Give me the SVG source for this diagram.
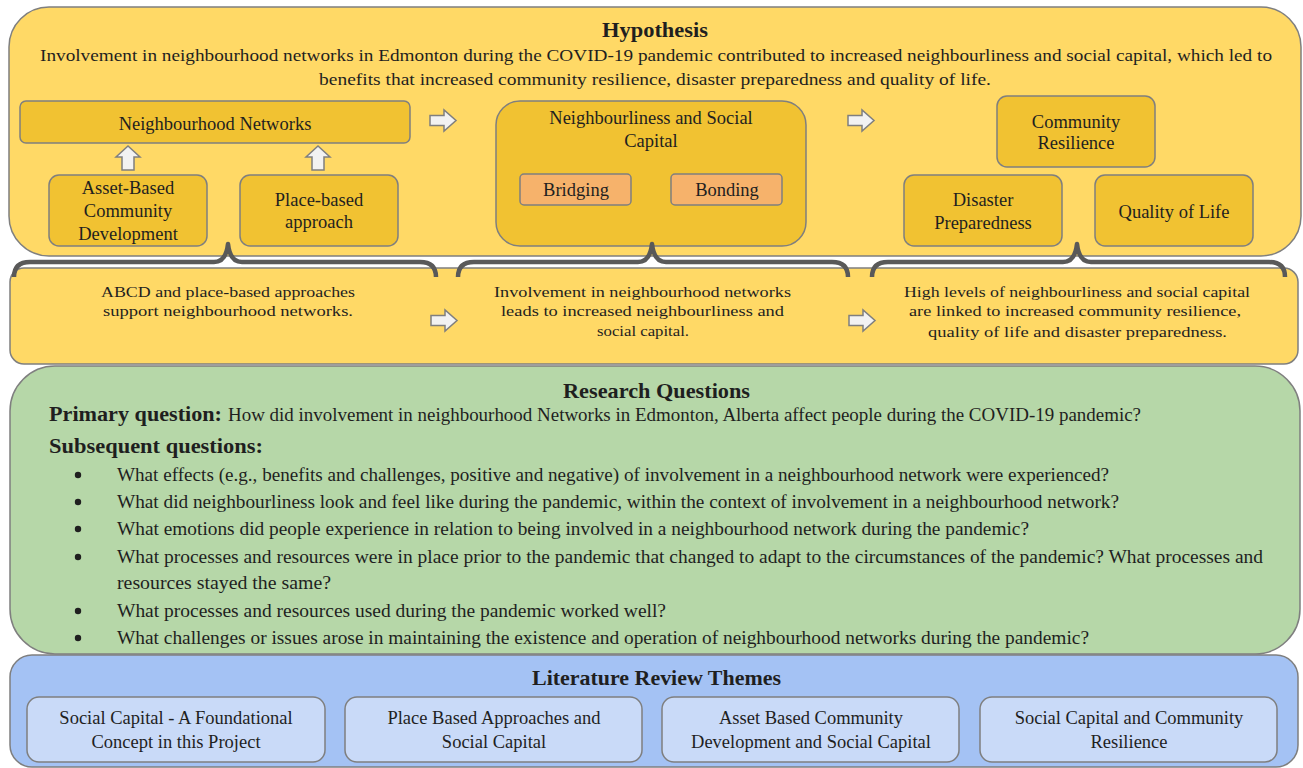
<svg xmlns="http://www.w3.org/2000/svg" width="1303" height="768" viewBox="0 0 1303 768">
<style>
text{font-family:"Liberation Serif","DejaVu Serif",serif;fill:#1f1f1f}
.t{font-size:21px;font-weight:bold}
.h{font-size:17.5px}
.n{font-size:18.5px;text-anchor:middle}
.s{font-size:15.5px}
.q{font-size:18px}
.b{font-size:20px;font-weight:bold}
.panel{stroke:#7f7f7f;stroke-width:1.5}
.node{fill:#F1C232;stroke:#7f7f7f;stroke-width:1.5}
.sub{fill:#F6B26B;stroke:#7f7f7f;stroke-width:1.5}
.lit{fill:#C9DAF8;stroke:#7f7f7f;stroke-width:1.5}
.arr{fill:#F2F2F2;stroke:#7f7f7f;stroke-width:1.5}
.brace{fill:none;stroke:#595959;stroke-width:4.5;stroke-linejoin:round}
</style>
<defs>
<path id="ra" d="M0,5.5 H14 V0 L26,10.5 L14,21 V15.5 H0 Z"/>
<path id="ua" d="M6,24 V11 H0 L12,0 L24,11 H18 V24 Z"/>
</defs>
<rect width="1303" height="768" fill="#ffffff"/>

<g id="hypothesis">
<rect class="panel" x="9" y="7" width="1292" height="249" rx="40" fill="#FFD966"/>
<text class="t" x="602" y="37" textLength="106" lengthAdjust="spacingAndGlyphs">Hypothesis</text>
<text class="h" x="40" y="61" textLength="1232" lengthAdjust="spacingAndGlyphs">Involvement in neighbourhood networks in Edmonton during the COVID-19 pandemic contributed to increased neighbourliness and social capital, which led to</text>
<text class="h" x="319" y="85" textLength="672" lengthAdjust="spacingAndGlyphs">benefits that increased community resilience, disaster preparedness and quality of life.</text>
</g>

<g id="summary">
<rect class="panel" x="10" y="268" width="1288" height="96" rx="14" fill="#FFD966"/>
<text class="s" x="101" y="297" textLength="254" lengthAdjust="spacingAndGlyphs">ABCD and place-based approaches</text>
<text class="s" x="103" y="316" textLength="250" lengthAdjust="spacingAndGlyphs">support neighbourhood networks.</text>
<text class="s" x="494" y="297" textLength="297" lengthAdjust="spacingAndGlyphs">Involvement in neighbourhood networks</text>
<text class="s" x="501" y="316" textLength="283" lengthAdjust="spacingAndGlyphs">leads to increased neighbourliness and</text>
<text class="s" x="597" y="336" textLength="92" lengthAdjust="spacingAndGlyphs">social capital.</text>
<text class="s" x="904" y="297" textLength="346" lengthAdjust="spacingAndGlyphs">High levels of neighbourliness and social capital</text>
<text class="s" x="909" y="316" textLength="332" lengthAdjust="spacingAndGlyphs">are linked to increased community resilience,</text>
<text class="s" x="928" y="337" textLength="299" lengthAdjust="spacingAndGlyphs">quality of life and disaster preparedness.</text>
</g>

<g id="neighbourhood-networks">
<rect class="node" x="20" y="101" width="390" height="42" rx="6"/>
<text class="n" x="215" y="130">Neighbourhood Networks</text>
</g>
<g id="abcd">
<rect class="node" x="49" y="175" width="158" height="71" rx="10"/>
<text class="n" x="128" y="194">Asset-Based</text>
<text class="n" x="128" y="217">Community</text>
<text class="n" x="128" y="240">Development</text>
</g>
<g id="place-based">
<rect class="node" x="240" y="175" width="158" height="71" rx="10"/>
<text class="n" x="319" y="206">Place-based</text>
<text class="n" x="319" y="228">approach</text>
</g>
<g id="neighbourliness">
<rect class="node" x="496" y="101" width="310" height="145" rx="24"/>
<text class="n" x="651" y="124">Neighbourliness and Social</text>
<text class="n" x="651" y="147">Capital</text>
</g>
<g id="bridging">
<rect class="sub" x="520" y="174" width="111" height="31" rx="4"/>
<text class="n" x="576" y="196">Bridging</text>
</g>
<g id="bonding">
<rect class="sub" x="671" y="174" width="111" height="31" rx="4"/>
<text class="n" x="727" y="196">Bonding</text>
</g>
<g id="community-resilience">
<rect class="node" x="997" y="96" width="158" height="71" rx="10"/>
<text class="n" x="1076" y="128">Community</text>
<text class="n" x="1076" y="149">Resilience</text>
</g>
<g id="disaster-preparedness">
<rect class="node" x="904" y="175" width="158" height="71" rx="10"/>
<text class="n" x="983" y="206">Disaster</text>
<text class="n" x="983" y="229">Preparedness</text>
</g>
<g id="quality-of-life">
<rect class="node" x="1095" y="175" width="158" height="71" rx="10"/>
<text class="n" x="1174" y="218">Quality of Life</text>
</g>

<g id="research">
<rect class="panel" x="10" y="366" width="1290" height="288" rx="45" fill="#B6D7A8"/>
<text class="t" x="563" y="398" textLength="187" lengthAdjust="spacingAndGlyphs">Research Questions</text>
<text class="b" x="49" y="421" textLength="173" lengthAdjust="spacingAndGlyphs">Primary question:</text>
<text class="q" x="228" y="421" textLength="913" lengthAdjust="spacingAndGlyphs">How did involvement in neighbourhood Networks in Edmonton, Alberta affect people during the COVID-19 pandemic?</text>
<text class="b" x="49" y="453" textLength="214" lengthAdjust="spacingAndGlyphs">Subsequent questions:</text>
<g fill="#1f1f1f">
<circle cx="78" cy="475" r="3.2"/>
<circle cx="78" cy="502" r="3.2"/>
<circle cx="78" cy="529" r="3.2"/>
<circle cx="78" cy="557" r="3.2"/>
<circle cx="78" cy="611" r="3.2"/>
<circle cx="78" cy="638" r="3.2"/>
</g>
<text class="q" x="117" y="481" textLength="992" lengthAdjust="spacingAndGlyphs">What effects (e.g., benefits and challenges, positive and negative) of involvement in a neighbourhood network were experienced?</text>
<text class="q" x="117" y="508" textLength="1002" lengthAdjust="spacingAndGlyphs">What did neighbourliness look and feel like during the pandemic, within the context of involvement in a neighbourhood network?</text>
<text class="q" x="117" y="535" textLength="912" lengthAdjust="spacingAndGlyphs">What emotions did people experience in relation to being involved in a neighbourhood network during the pandemic?</text>
<text class="q" x="117" y="563" textLength="1146" lengthAdjust="spacingAndGlyphs">What processes and resources were in place prior to the pandemic that changed to adapt to the circumstances of the pandemic? What processes and</text>
<text class="q" x="117" y="589" textLength="214" lengthAdjust="spacingAndGlyphs">resources stayed the same?</text>
<text class="q" x="117" y="617" textLength="549" lengthAdjust="spacingAndGlyphs">What processes and resources used during the pandemic worked well?</text>
<text class="q" x="117" y="644" textLength="972" lengthAdjust="spacingAndGlyphs">What challenges or issues arose in maintaining the existence and operation of neighbourhood networks during the pandemic?</text>
</g>

<g id="literature">
<rect class="panel" x="10" y="655" width="1288" height="112" rx="22" fill="#A4C2F4"/>
<text class="t" x="532" y="685" textLength="249" lengthAdjust="spacingAndGlyphs">Literature Review Themes</text>
</g>
<g id="lit-1">
<rect class="lit" x="27" y="697" width="298" height="65" rx="12"/>
<text class="n" x="176" y="724">Social Capital - A Foundational</text>
<text class="n" x="176" y="748">Concept in this Project</text>
</g>
<g id="lit-2">
<rect class="lit" x="345" y="697" width="297" height="65" rx="12"/>
<text class="n" x="494" y="724">Place Based Approaches and</text>
<text class="n" x="494" y="748">Social Capital</text>
</g>
<g id="lit-3">
<rect class="lit" x="662" y="697" width="297" height="65" rx="12"/>
<text class="n" x="811" y="724">Asset Based Community</text>
<text class="n" x="811" y="748">Development and Social Capital</text>
</g>
<g id="lit-4">
<rect class="lit" x="980" y="697" width="297" height="65" rx="12"/>
<text class="n" x="1129" y="724">Social Capital and Community</text>
<text class="n" x="1129" y="748">Resilience</text>
</g>

<g id="connectors">
<use href="#ua" class="arr" x="116" y="146"/>
<use href="#ua" class="arr" x="306" y="146"/>
<use href="#ra" class="arr" x="430" y="110"/>
<use href="#ra" class="arr" x="848" y="110"/>
<use href="#ra" class="arr" x="431" y="310"/>
<use href="#ra" class="arr" x="849" y="310"/>
<path class="brace" d="M14,277 Q14,262 30,262 H214 Q226,262 228,244 Q230,262 242,262 H420 Q436,262 436,277"/>
<path class="brace" d="M458,277 Q458,262 474,262 H638 Q650,262 652,244 Q654,262 666,262 H832 Q848,262 848,277"/>
<path class="brace" d="M872,277 Q872,262 888,262 H1063 Q1075,262 1077,244 Q1079,262 1091,262 H1269 Q1285,262 1285,277"/>
</g>
</svg>
